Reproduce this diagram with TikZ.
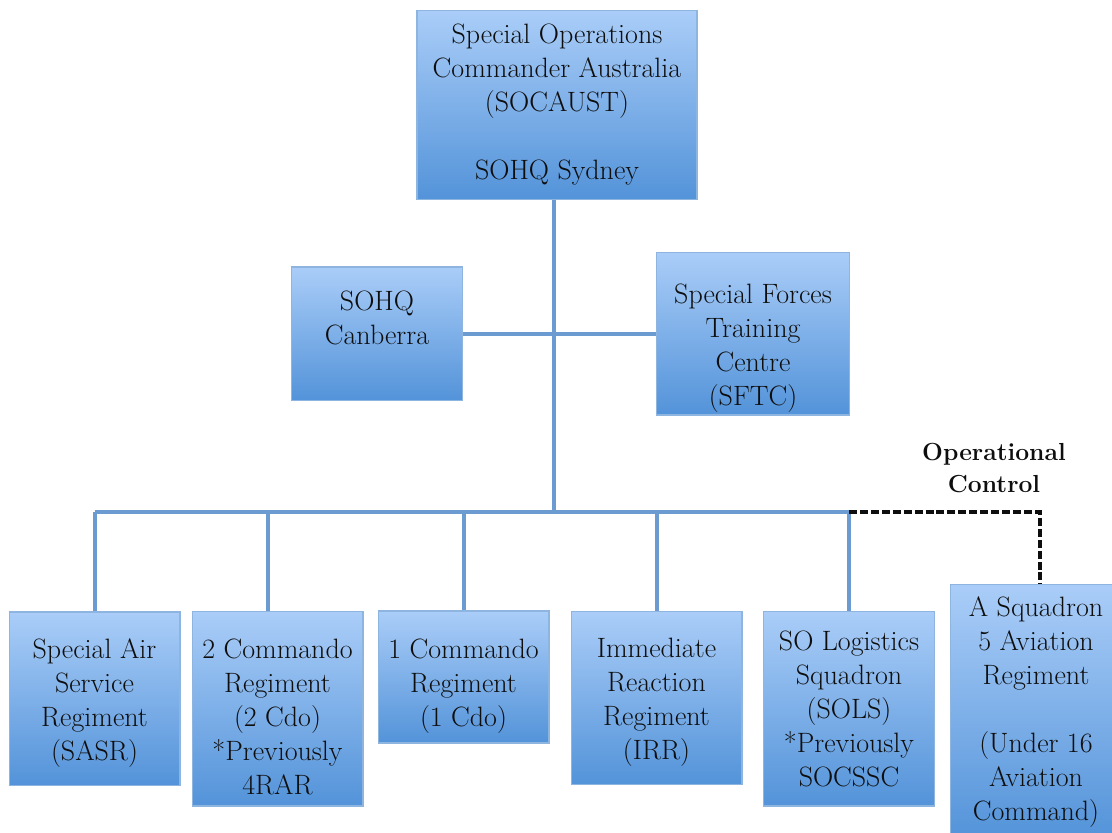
\documentclass[tikz,border=0pt]{standalone}

\definecolor{boxtop}{HTML}{AACDF8}
\definecolor{boxbot}{HTML}{5393D9}
\definecolor{boxline}{HTML}{8EB4E0}
\definecolor{linkblue}{HTML}{6C9BD2}
\definecolor{ink}{HTML}{0E0E0E}

\begin{document}
\begin{tikzpicture}[x=0.75pt, y=-0.75pt,
    unit/.style={draw=boxline, line width=1pt, top color=boxtop, bottom color=boxbot,
        align=center, inner sep=0pt, text=ink, minimum width=128pt,
        font=\fontsize{21}{25.5}\selectfont},
    link/.style={linkblue, line width=3pt},
    opcon/.style={ink, line width=2.6pt, dash pattern=on 6pt off 2.2pt},
    opnote/.style={align=center, text=ink, font=\fontsize{18.5}{24}\selectfont\bfseries}
]
\useasboundingbox (0,0) rectangle (1112,832);

% Commandement
\node[unit, minimum width=210pt, minimum height=142pt] (socaust) at (557,105)
    {Special Operations\\Commander Australia\\(SOCAUST)\\[25.5pt]SOHQ Sydney};

% Etat-major et formation
\node[unit, minimum height=100pt] (canberra) at (377,333.5)
    {SOHQ\\Canberra\\[-1.5pt]\mbox{}};
\node[unit, minimum width=145pt, minimum height=122pt] (sftc) at (753,333.5)
    {\rule{0pt}{37pt}Special Forces\\Training\\Centre\\(SFTC)};

% Unites
\node[unit, minimum height=130pt] (sasr) at (94.5,698.5)
    {\rule{0pt}{21pt}Special Air\\Service\\Regiment\\(SASR)};
\node[unit, minimum height=146pt] (cdo2) at (277.5,708.5)
    {\rule{0pt}{27pt}2 Commando\\Regiment\\(2 Cdo)\\*Previously\\4RAR};
\node[unit, minimum height=99pt] (cdo1) at (463.5,677)
    {\rule{0pt}{28pt}1 Commando\\Regiment\\(1 Cdo)};
\node[unit, minimum height=130pt] (irr) at (656.5,698)
    {\rule{0pt}{21pt}Immediate\\Reaction\\Regiment\\(IRR)};
\node[unit, minimum height=146pt] (sols) at (849,708.5)
    {SO Logistics\\Squadron\\(SOLS)\\*Previously\\SOCSSC};
\node[unit, minimum height=191pt] (asqn) at (1036,712)
    {A Squadron\\5 Aviation\\Regiment\\[25.5pt](Under 16\\Aviation\\Command)};

\node[opnote] (opctl) at (994,468) {Operational\\Control};

% Liaisons
\coordinate (bus) at (554,512);
\draw[link] (socaust.south -| bus) -- (bus);
\draw[link] (canberra) -- (sftc);
\draw[link] (sasr.north |- bus) -- (sols.north |- bus);
\foreach \u in {sasr,cdo1,irr,sols} {
    \draw[link] (\u.north) -- (\u.north |- bus);
}
\draw[link] ([xshift=-7pt]cdo2.north) -- ([xshift=-7pt]cdo2.north |- bus);

% Controle operationnel
\draw[opcon] (sols.north |- bus) -| ([xshift=3pt]asqn.north);

\end{tikzpicture}
\end{document}
